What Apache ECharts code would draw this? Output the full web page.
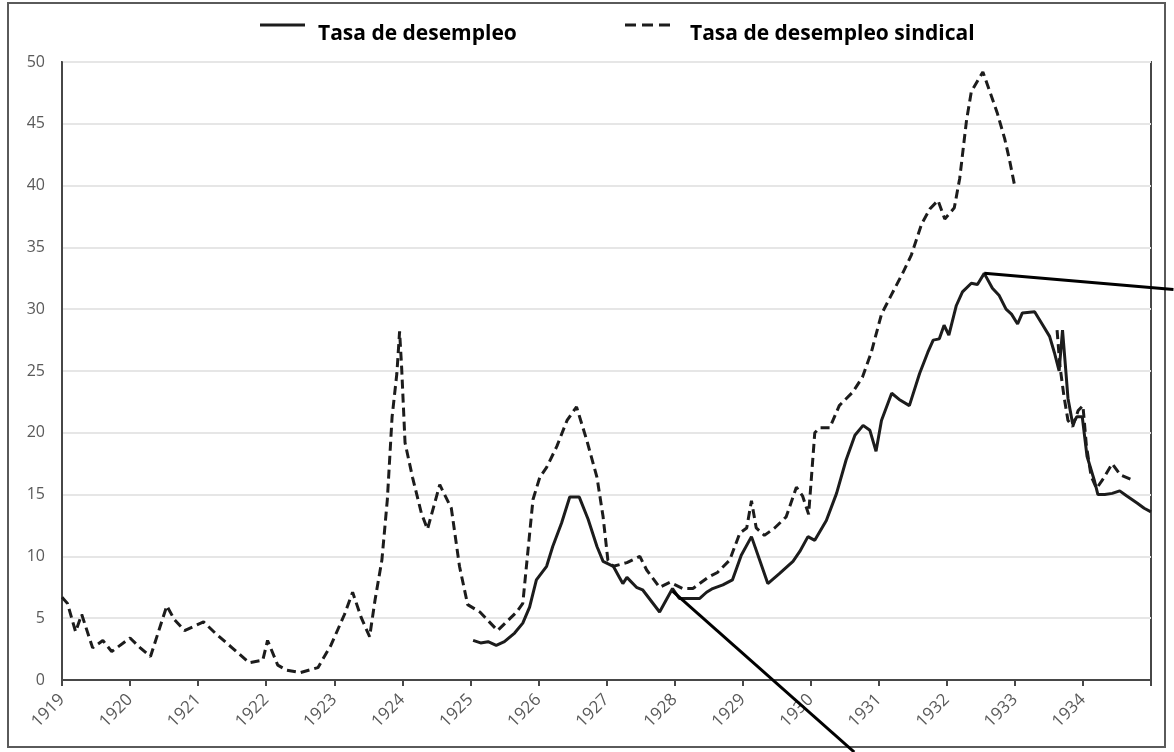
<!DOCTYPE html>
<html>
<head>
<meta charset="utf-8">
<script src="https://cdn.jsdelivr.net/npm/echarts@6/dist/echarts.min.js"></script>
<style>
html,body{margin:0;padding:0;background:#fff;}
#chart{width:1174px;height:752px;}
</style>
</head>
<body>
<div id="chart"></div>
<script>
// ---- Data ----
const yearTicks = [1919,1920,1921,1922,1923,1924,1925,1926,1927,1928,1929,1930,1931,1932,1933,1934];

const sindicalYears = [1919.00,1919.08,1919.20,1919.29,1919.45,1919.60,1919.73,1920.00,1920.15,1920.30,1920.54,1920.65,1920.80,1921.08,1921.25,1921.50,1921.75,1921.95,1922.02,1922.17,1922.30,1922.50,1922.76,1922.95,1923.15,1923.27,1923.40,1923.52,1923.60,1923.70,1923.78,1923.85,1923.92,1923.96,1923.99,1924.04,1924.15,1924.28,1924.37,1924.55,1924.72,1924.84,1924.96,1925.14,1925.40,1925.68,1925.77,1925.92,1926.02,1926.12,1926.27,1926.42,1926.56,1926.71,1926.86,1926.95,1927.02,1927.10,1927.30,1927.49,1927.59,1927.78,1927.93,1928.12,1928.27,1928.49,1928.63,1928.81,1928.96,1929.06,1929.13,1929.20,1929.32,1929.47,1929.64,1929.79,1929.88,1929.97,1930.06,1930.13,1930.28,1930.42,1930.62,1930.76,1930.89,1931.04,1931.18,1931.35,1931.48,1931.63,1931.75,1931.87,1931.97,1932.11,1932.19,1932.29,1932.36,1932.53,1932.67,1932.74,1932.85,1932.92,1933.00,1933.30,1933.62,1933.66,1933.72,1933.78,1933.85,1933.93,1934.00,1934.05,1934.12,1934.20,1934.30,1934.43,1934.55,1934.72];
const sindicalRates = [6.7,6.2,3.9,5.3,2.6,3.2,2.3,3.4,2.6,1.9,6.0,4.9,4.0,4.7,3.8,2.6,1.4,1.6,3.2,1.2,0.8,0.6,1.0,2.8,5.3,7.1,5.0,3.5,6.5,9.7,14.6,21.3,24.8,28.2,25.3,19.2,16.4,13.5,12.2,15.8,13.9,9.2,6.1,5.5,4.0,5.5,6.2,14.6,16.4,17.2,18.9,21.0,22.1,19.4,16.4,13.2,9.7,9.2,9.5,10.0,8.9,7.5,7.9,7.4,7.4,8.3,8.7,9.7,11.9,12.3,14.5,12.3,11.7,12.3,13.2,15.6,14.9,13.4,20.0,20.4,20.4,22.2,23.3,24.5,26.5,29.6,31.1,32.9,34.4,36.9,38.1,38.8,37.3,38.2,40.6,45.3,47.6,49.2,47.0,45.9,43.8,42.1,39.9,null,28.3,25.5,23.0,21.0,20.5,21.8,22.2,19.0,16.5,15.5,16.3,17.5,16.6,16.2];

const totalYears = [1925.04,1925.15,1925.26,1925.38,1925.50,1925.65,1925.77,1925.87,1925.97,1926.12,1926.21,1926.34,1926.46,1926.60,1926.73,1926.86,1926.95,1927.10,1927.19,1927.24,1927.30,1927.44,1927.53,1927.78,1927.97,1928.07,1928.37,1928.47,1928.56,1928.71,1928.85,1928.98,1929.13,1929.25,1929.37,1929.54,1929.74,1929.84,1929.96,1930.06,1930.23,1930.38,1930.52,1930.65,1930.77,1930.87,1930.96,1931.04,1931.19,1931.30,1931.45,1931.60,1931.72,1931.80,1931.89,1931.96,1932.03,1932.14,1932.23,1932.36,1932.45,1932.55,1932.67,1932.77,1932.87,1932.95,1933.04,1933.11,1933.29,1933.40,1933.51,1933.58,1933.65,1933.70,1933.74,1933.78,1933.85,1933.91,1933.99,1934.06,1934.17,1934.22,1934.32,1934.43,1934.54,1934.64,1934.72,1934.80,1934.90,1935.00];
const totalRates = [3.2,3.0,3.1,2.8,3.1,3.8,4.6,5.9,8.1,9.2,10.8,12.7,14.8,14.8,13.0,10.8,9.6,9.2,8.3,7.8,8.3,7.5,7.3,5.5,7.4,6.6,6.6,7.1,7.4,7.7,8.1,10.1,11.6,9.7,7.8,8.6,9.6,10.4,11.6,11.3,12.9,15.1,17.8,19.8,20.6,20.2,18.5,21.0,23.2,22.7,22.2,24.8,26.5,27.5,27.6,28.7,27.9,30.3,31.4,32.1,32.0,32.9,31.7,31.1,30.0,29.6,28.8,29.7,29.8,28.8,27.8,26.5,25.0,28.3,25.6,22.8,20.7,21.3,21.3,18.1,16.1,15.0,15.0,15.1,15.3,14.9,14.6,14.3,13.9,13.6];

// annotation pointer lines: [start, end] in data units
const pointerPeak = [[1932.55, 32.9], [1935.33, 31.6]];
const pointer1928 = [[1927.97, 7.2], [1930.64, -5.83]];

const seriesNames = ['Tasa de desempleo', 'Tasa de desempleo sindical'];

const toPairs = (xs, ys) => xs.map((x, i) => [x, ys[i]]);

const chart = echarts.init(document.getElementById('chart'));
const ink = '#1c1c1c';
const legendText = { color: '#000', fontWeight: 'bold', fontSize: 21, fontFamily: 'Open Sans' };
const solidIcon = 'path://M0,6 L45,6 L45,9 L0,9 Z';
const dashIcon = 'path://M0,6 L11,6 L11,9 L0,9 Z M17,6 L28,6 L28,9 L17,9 Z M34,6 L45,6 L45,9 L34,9 Z';
const option = {
  animation: false,
  backgroundColor: '#fff',
  grid: { left: 62, right: 23, top: 62, bottom: 72, show: true, borderColor: '#474747', borderWidth: 2, backgroundColor: 'transparent' },
  legend: [
    // icons
    { left: 255, top: 13, data: [seriesNames[0]], itemWidth: 45, itemHeight: 14, icon: solidIcon, formatter: () => '', selectedMode: false },
    { left: 620, top: 13, data: [seriesNames[1]], itemWidth: 45, itemHeight: 14, icon: dashIcon, formatter: () => '', selectedMode: false },
    // texts
    { left: 300, top: 19, data: [seriesNames[0]], itemWidth: 8, itemHeight: 14, itemGap: 0, icon: 'rect', itemStyle: { opacity: 0 }, textStyle: legendText, selectedMode: false },
    { left: 672, top: 19, data: [seriesNames[1]], itemWidth: 8, itemHeight: 14, itemGap: 0, icon: 'rect', itemStyle: { opacity: 0 }, textStyle: legendText, selectedMode: false }
  ],
  xAxis: {
    type: 'value', min: 1919, max: 1935, interval: 1,
    axisLine: { show: true, lineStyle: { color: '#474747', width: 2 } },
    axisTick: { show: true, length: 6, lineStyle: { color: '#474747', width: 2 } },
    splitLine: { show: false },
    axisLabel: {
      rotate: 45, color: '#5a5a5a', fontSize: 17, fontFamily: 'Open Sans', margin: 17,
      formatter: v => (yearTicks.indexOf(v) >= 0 ? String(v) : '')
    }
  },
  yAxis: {
    type: 'value', min: 0, max: 50, interval: 5,
    axisLine: { show: true, lineStyle: { color: '#474747', width: 2 } },
    axisTick: { show: false },
    splitLine: { show: true, lineStyle: { color: '#e6e6e6', width: 2 } },
    axisLabel: { color: '#5a5a5a', fontSize: 16, fontFamily: 'Open Sans', margin: 17 }
  },
  series: [
    { name: seriesNames[0], type: 'line', data: toPairs(totalYears, totalRates), showSymbol: false, symbol: 'none',
      itemStyle: { color: ink }, lineStyle: { color: ink, width: 3 }, z: 3 },
    { name: seriesNames[1], type: 'line', data: toPairs(sindicalYears, sindicalRates), showSymbol: false, symbol: 'none', connectNulls: false,
      itemStyle: { color: ink }, lineStyle: { color: ink, width: 3, type: [9, 5] }, z: 2 }
  ]
};
chart.setOption(option);

function seg(p) {
  const a = chart.convertToPixel({ gridIndex: 0 }, p[0]);
  const b = chart.convertToPixel({ gridIndex: 0 }, p[1]);
  return { type: 'line', shape: { x1: a[0], y1: a[1], x2: b[0], y2: b[1] }, style: { stroke: '#000', lineWidth: 3 }, z: 10, silent: true };
}
chart.setOption({
  graphic: [
    { type: 'rect', shape: { x: 8, y: 3, width: 1157, height: 744 }, style: { fill: 'none', stroke: '#5a5a5a', lineWidth: 2 }, z: 0, silent: true },
    seg(pointerPeak),
    seg(pointer1928)
  ]
});
</script>
</body>
</html>
